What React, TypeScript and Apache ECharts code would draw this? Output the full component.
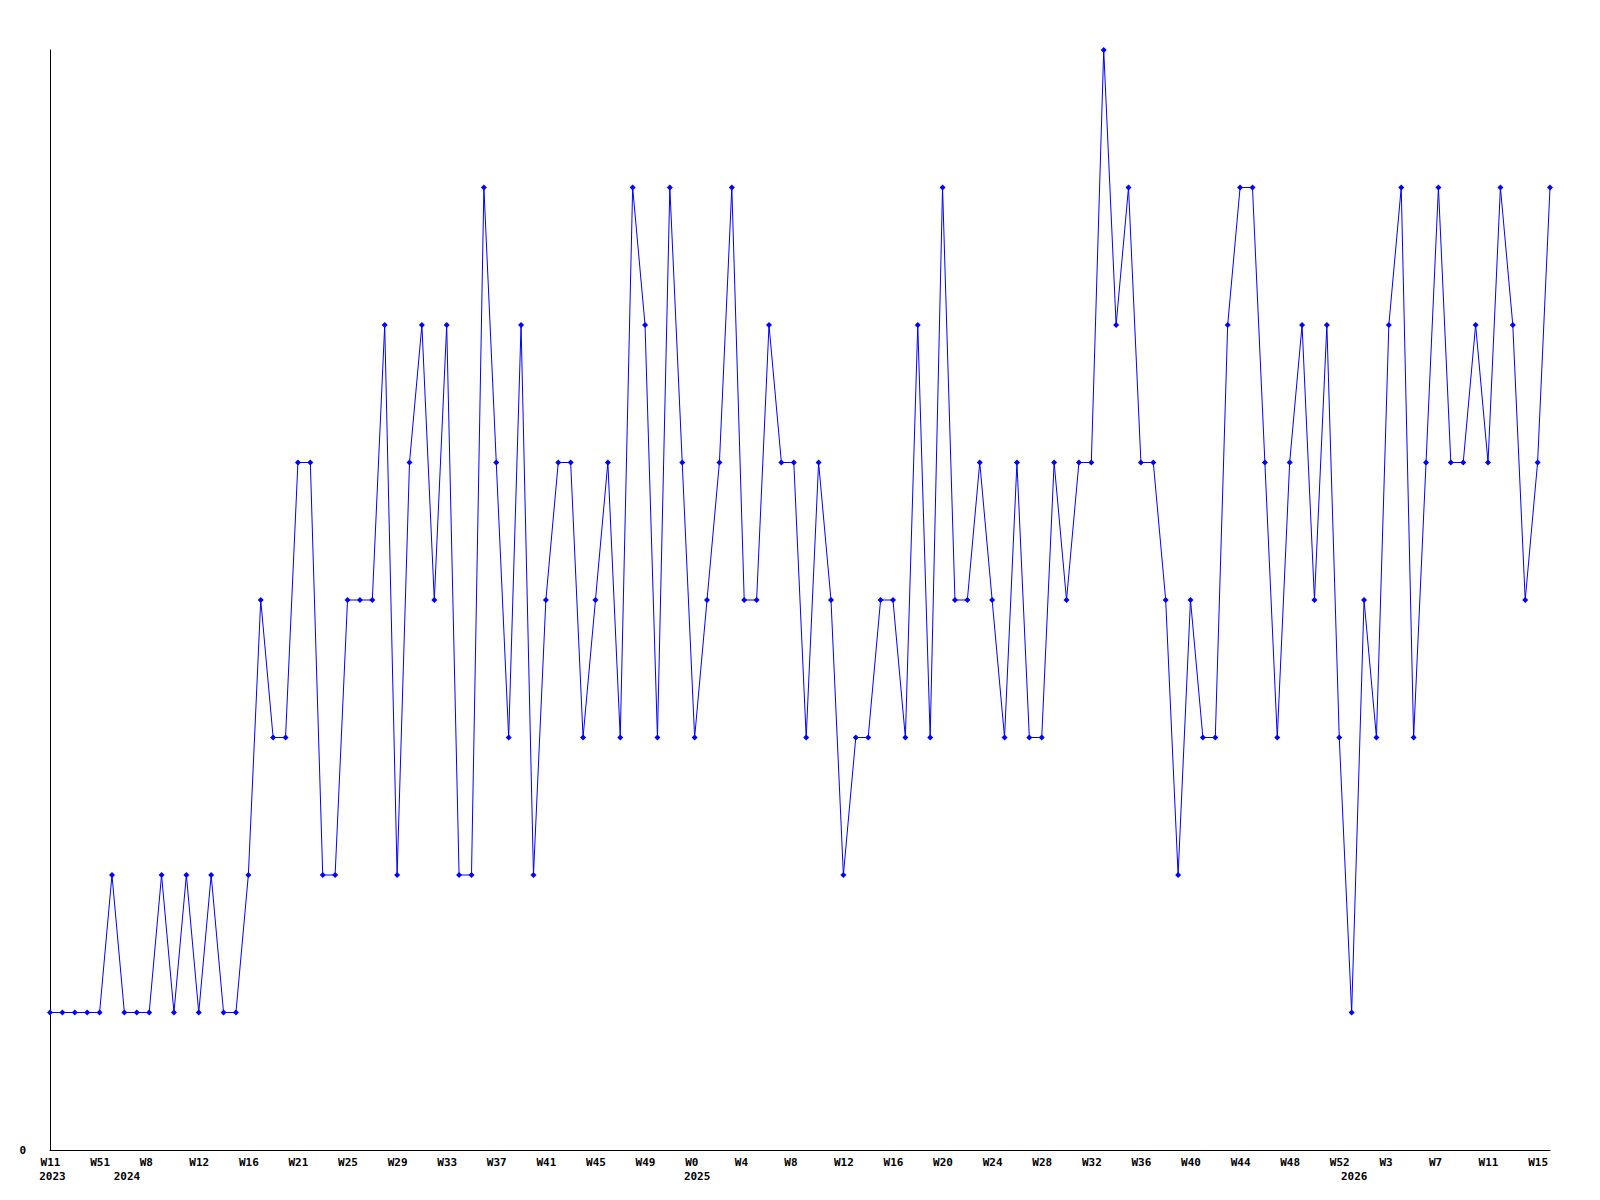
import React, { useEffect, useRef } from "react";
import * as echarts from "echarts";

// Weekly values, one per point
const values: number[] = [
  1, 1, 1, 1, 1, 2, 1, 1, 1, 2,
  1, 2, 1, 2, 1, 1, 2, 4, 3, 3,
  5, 5, 2, 2, 4, 4, 4, 6, 2, 5,
  6, 4, 6, 2, 2, 7, 5, 3, 6, 2,
  4, 5, 5, 3, 4, 5, 3, 7, 6, 3,
  7, 5, 3, 4, 5, 7, 4, 4, 6, 5,
  5, 3, 5, 4, 2, 3, 3, 4, 4, 3,
  6, 3, 7, 4, 4, 5, 4, 3, 5, 3,
  3, 5, 4, 5, 5, 8, 6, 7, 5, 5,
  4, 2, 4, 3, 3, 6, 7, 7, 5, 3,
  5, 6, 4, 6, 3, 1, 4, 3, 6, 7,
  3, 5, 7, 5, 5, 6, 5, 7, 6, 4,
  5, 7,
];

// Week tick labels, shown on every 4th point
const weekTicks: string[] = [
  "W11", "W51", "W8", "W12", "W16", "W21", "W25", "W29", "W33", "W37",
  "W41", "W45", "W49", "W0", "W4", "W8", "W12", "W16", "W20", "W24",
  "W28", "W32", "W36", "W40", "W44", "W48", "W52", "W3", "W7", "W11", "W15",
];
const tickStep = 4;

// Year labels and the point index they sit under
const yearLabels: string[] = ["2023", "2024", "2025", "2026"];
const yearIndex: number[] = [0, 6, 52, 105];

const categories: string[] = values.map((_, i) => "p" + i);

const FONT = "'DejaVu Sans Mono', monospace";

export default function App() {
  const ref = useRef<HTMLDivElement>(null);

  useEffect(() => {
    if (!ref.current) return;
    const chart = echarts.init(ref.current, null, { renderer: "svg" });
    const last = values.length - 1;
    const labelStyle = {
      fontFamily: FONT,
      fontSize: 11,
      fontWeight: "bold" as const,
      color: "#000",
    };
    chart.setOption({
      animation: false,
      backgroundColor: "#fff",
      grid: { left: 50, right: 50, top: 50, bottom: 50, containLabel: false },
      xAxis: [
        {
          type: "category",
          data: categories,
          boundaryGap: false,
          min: 0,
          max: last,
          axisLine: { show: true, lineStyle: { color: "#000", width: 1 } },
          axisTick: { show: false },
          splitLine: { show: false },
          axisLabel: {
            ...labelStyle,
            margin: 7,
            padding: [0, 0, 0, 1],
            interval: (idx: number) => idx % tickStep === 0,
            formatter: (_v: string, idx: number) =>
              idx % tickStep === 0 ? (weekTicks[idx / tickStep] ?? "").padEnd(3, " ") : "",
          },
        },
        {
          type: "category",
          data: categories,
          position: "bottom",
          offset: 14,
          boundaryGap: false,
          min: 0,
          max: last,
          axisLine: { show: false },
          axisTick: { show: false },
          splitLine: { show: false },
          axisLabel: {
            ...labelStyle,
            margin: 7,
            padding: [0, 0, 0, 5],
            interval: (idx: number) => yearIndex.indexOf(idx) >= 0,
            formatter: (_v: string, idx: number) => {
              const k = yearIndex.indexOf(idx);
              return k >= 0 ? yearLabels[k] : "";
            },
          },
        },
      ],
      yAxis: {
        type: "value",
        min: 0,
        max: 8,
        interval: 8,
        axisLine: { show: true, lineStyle: { color: "#000", width: 1 } },
        axisTick: { show: false },
        splitLine: { show: false },
        axisLabel: {
          ...labelStyle,
          margin: 24,
          formatter: (v: number) => (v === 0 ? "0" : ""),
        },
      },
      series: [
        {
          type: "line",
          data: values,
          xAxisIndex: 0,
          symbol: "diamond",
          symbolSize: 6,
          showAllSymbol: true,
          lineStyle: { color: "#0000ff", width: 1 },
          itemStyle: { color: "#0000ff" },
          emphasis: { disabled: true },
        },
      ],
    });
    return () => chart.dispose();
  }, []);

  return (
    <div
      ref={ref}
      style={{ position: "fixed", left: 0, top: 0, width: 1600, height: 1200, background: "#fff" }}
    />
  );
}
